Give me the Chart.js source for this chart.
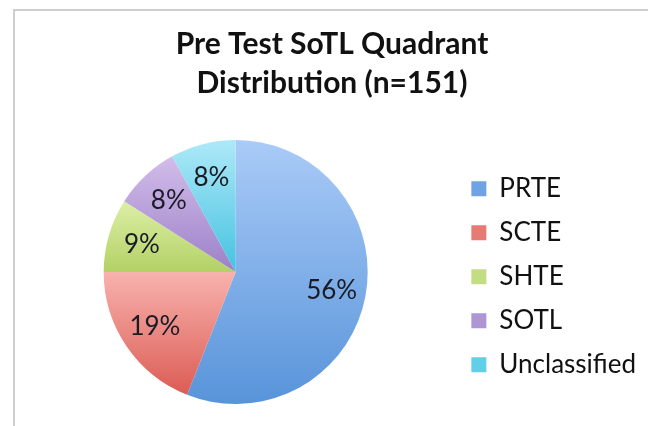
<!DOCTYPE html>
<html>
<head>
<meta charset="utf-8">
<script src="https://cdn.jsdelivr.net/npm/chart.js@4.4.1/dist/chart.umd.min.js"></script>
<style>
    html, body { margin: 0; padding: 0; background: #fff; }
    body { width: 648px; height: 426px; position: relative; overflow: hidden; }
    .frame {
        position: absolute; left: 13px; top: 9px; width: 700px; height: 500px;
        border-left: 2px solid #cfcfcf; border-top: 2px solid #cfcfcf;
    }
    #wrap { position: absolute; left: 0; top: 0; width: 648px; height: 426px; }
</style>
</head>
<body>
<div class="frame"></div>
<div id="wrap"><canvas id="pieChart"></canvas></div>
<script>
const titleLines = ['Pre Test SoTL Quadrant', 'Distribution (n=151)'];
const categories = ['PRTE', 'SCTE', 'SHTE', 'SOTL', 'Unclassified'];
const shares = [56, 19, 9, 8, 8];
const pctLabels = ['56%', '19%', '9%', '8%', '8%'];

// light (top) and dark (bottom) end of each slice gradient
const topColors = ['#aacbf7', '#f8b2ad', '#dcefa6', '#d2bdea', '#ade9f8'];
const bottomColors = ['#5894da', '#dc5c55', '#b3d165', '#9c80c8', '#45c2e0'];
const legendColors = ['#6ea3e6', '#e87a74', '#c3dd82', '#ae95d4', '#62cfe9'];

const FONT = 'Lato, "Open Sans", sans-serif';
const TEXT_COLOR = '#111';

function sliceGradient(context) {
    const chart = context.chart;
    const area = chart.chartArea;
    const i = context.dataIndex;
    if (!area || i === undefined) return bottomColors[i] || '#888';

    const cx = (area.left + area.right) / 2;
    const cy = (area.top + area.bottom) / 2;
    const r = Math.min(area.right - area.left, area.bottom - area.top) / 2;
    const total = shares.reduce((a, b) => a + b, 0);
    let before = 0;
    for (let k = 0; k < i; k++) before += shares[k];

    const a0 = -Math.PI / 2 + 2 * Math.PI * before / total;
    const a1 = a0 + 2 * Math.PI * shares[i] / total;
    const ys = [cy, cy + r * Math.sin(a0), cy + r * Math.sin(a1)];
    [-Math.PI / 2, Math.PI / 2, 3 * Math.PI / 2].forEach(t => {
        if (t >= a0 && t <= a1) ys.push(cy + r * Math.sin(t));
    });
    const y0 = Math.min(...ys);
    const y1 = Math.max(...ys);

    const g = chart.ctx.createLinearGradient(0, y0, 0, y1);
    g.addColorStop(0, topColors[i]);
    g.addColorStop(1, bottomColors[i]);
    return g;
}

const sliceLabels = {
    id: 'sliceLabels',
    afterDatasetsDraw(chart) {
        const ctx = chart.ctx;
        const meta = chart.getDatasetMeta(0);
        ctx.save();
        ctx.font = '26px ' + FONT;
        ctx.fillStyle = '#1b1b26';
        ctx.textAlign = 'center';
        ctx.textBaseline = 'middle';
        meta.data.forEach((arc, i) => {
            const p = arc.getProps(['x', 'y', 'startAngle', 'endAngle', 'outerRadius'], true);
            const mid = (p.startAngle + p.endAngle) / 2;
            const d = p.outerRadius * 0.74;
            ctx.fillText(pctLabels[i], p.x + Math.cos(mid) * d, p.y + Math.sin(mid) * d);
        });
        ctx.restore();
    }
};

const chart = new Chart(document.getElementById('pieChart'), {
    type: 'pie',
    data: {
        labels: categories,
        datasets: [{
            data: shares,
            backgroundColor: sliceGradient,
            borderWidth: 0
        }]
    },
    options: {
        responsive: true,
        maintainAspectRatio: false,
        animation: false,
        layout: { padding: { left: 18, right: 2, top: 0, bottom: 22 } },
        plugins: {
            title: {
                display: true,
                text: titleLines,
                color: TEXT_COLOR,
                font: { family: FONT, size: 30, weight: 'bold', lineHeight: 1.3 },
                padding: { top: 25, bottom: 37 }
            },
            legend: {
                position: 'right',
                fullSize: false,
                // empty legend title only nudges the items down a little
                title: { display: true, text: ' ', font: { size: 8 }, padding: 0 },
                labels: {
                    color: TEXT_COLOR,
                    font: { family: FONT, size: 26 },
                    boxWidth: 15,
                    boxHeight: 15,
                    padding: 18,
                    generateLabels(c) {
                        return categories.map((name, i) => ({
                            text: name,
                            fillStyle: legendColors[i],
                            strokeStyle: legendColors[i],
                            fontColor: TEXT_COLOR,
                            lineWidth: 0,
                            index: i,
                            hidden: false
                        }));
                    }
                }
            },
            tooltip: { enabled: false }
        }
    },
    plugins: [sliceLabels]
});
</script>
</body>
</html>
